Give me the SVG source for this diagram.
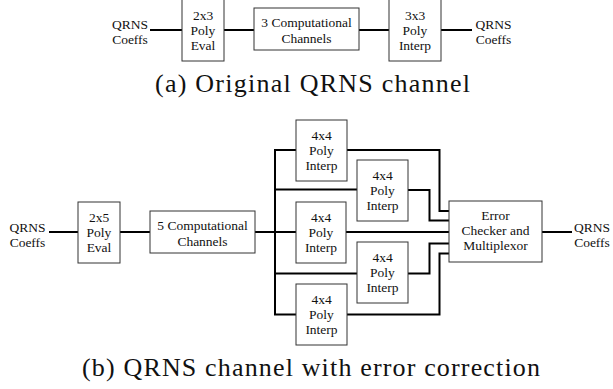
<svg xmlns="http://www.w3.org/2000/svg" width="613" height="389" viewBox="0 0 613 389">
<style>
.box{fill:#fff;stroke:#333;stroke-width:1}
.w{fill:none;stroke:#000;stroke-width:2;stroke-linecap:square}
</style>
<rect width="613" height="389" fill="#fff"/>
<g id="connectors">
<path class="w" d="M151 30H182M224 30H254M359 30H389M441 30H471"/>
<path class="w" d="M50 232H78M120 232H150M255 232H296"/>
<path class="w" d="M296 150H275V314.5H296M275 189.5H357M275 273.5H357"/>
<path class="w" d="M347 150H439.5V211H449M408 190H429.5V220.5H449M346 232H449M408 273.5H429.5V243.5H449M347 314.5H439.5V253.5H449M542 232H571"/>
</g>
<g font-family="Liberation Serif, Times New Roman, Tinos, DejaVu Serif, Noto Serif, FreeSerif, serif" font-size="13.5" fill="#111" text-anchor="middle">
<g id="a-in"><text x="130" y="29">QRNS</text><text x="130" y="44">Coeffs</text></g>
<g id="a-eval"><rect class="box" x="182" y="-2" width="42" height="63"/><text x="203" y="20">2x3</text><text x="203" y="35">Poly</text><text x="203" y="50">Eval</text></g>
<g id="a-chan"><rect class="box" x="254" y="8" width="105" height="42"/><text x="306.5" y="27">3 Computational</text><text x="306.5" y="43">Channels</text></g>
<g id="a-interp"><rect class="box" x="389" y="-2" width="52" height="63"/><text x="415" y="20">3x3</text><text x="415" y="35">Poly</text><text x="415" y="50">Interp</text></g>
<g id="a-out"><text x="493.5" y="29">QRNS</text><text x="493.5" y="44">Coeffs</text></g>
<g id="b-in"><text x="27.5" y="232">QRNS</text><text x="27.5" y="247">Coeffs</text></g>
<g id="b-eval"><rect class="box" x="78" y="202" width="42" height="61"/><text x="99" y="222">2x5</text><text x="99" y="237">Poly</text><text x="99" y="252">Eval</text></g>
<g id="b-chan"><rect class="box" x="150" y="211" width="105" height="42"/><text x="202.5" y="230">5 Computational</text><text x="202.5" y="246">Channels</text></g>
<g id="b-i1"><rect class="box" x="296" y="120" width="51" height="61"/><text x="321.5" y="140">4x4</text><text x="321.5" y="155">Poly</text><text x="321.5" y="170">Interp</text></g>
<g id="b-i2"><rect class="box" x="357" y="160" width="51" height="61"/><text x="382.5" y="180">4x4</text><text x="382.5" y="195">Poly</text><text x="382.5" y="210">Interp</text></g>
<g id="b-i3"><rect class="box" x="296" y="202" width="50" height="61"/><text x="321" y="222">4x4</text><text x="321" y="237">Poly</text><text x="321" y="252">Interp</text></g>
<g id="b-i4"><rect class="box" x="357" y="242" width="51" height="61"/><text x="382.5" y="262">4x4</text><text x="382.5" y="277">Poly</text><text x="382.5" y="292">Interp</text></g>
<g id="b-i5"><rect class="box" x="296" y="284" width="51" height="61"/><text x="321.5" y="304">4x4</text><text x="321.5" y="319">Poly</text><text x="321.5" y="334">Interp</text></g>
<g id="b-err"><rect class="box" x="449" y="201" width="93" height="61"/><text x="495.5" y="220">Error</text><text x="495.5" y="235">Checker and</text><text x="495.5" y="250">Multiplexor</text></g>
<g id="b-out"><text x="592" y="232">QRNS</text><text x="592" y="247">Coeffs</text></g>
</g>
<g font-family="Liberation Serif, Times New Roman, Tinos, DejaVu Serif, Noto Serif, FreeSerif, serif" font-size="26" fill="#111">
<text x="155" y="92" textLength="315" lengthAdjust="spacing">(a) Original QRNS channel</text>
<text x="82" y="376" textLength="458" lengthAdjust="spacing">(b) QRNS channel with error correction</text>
</g>
</svg>
